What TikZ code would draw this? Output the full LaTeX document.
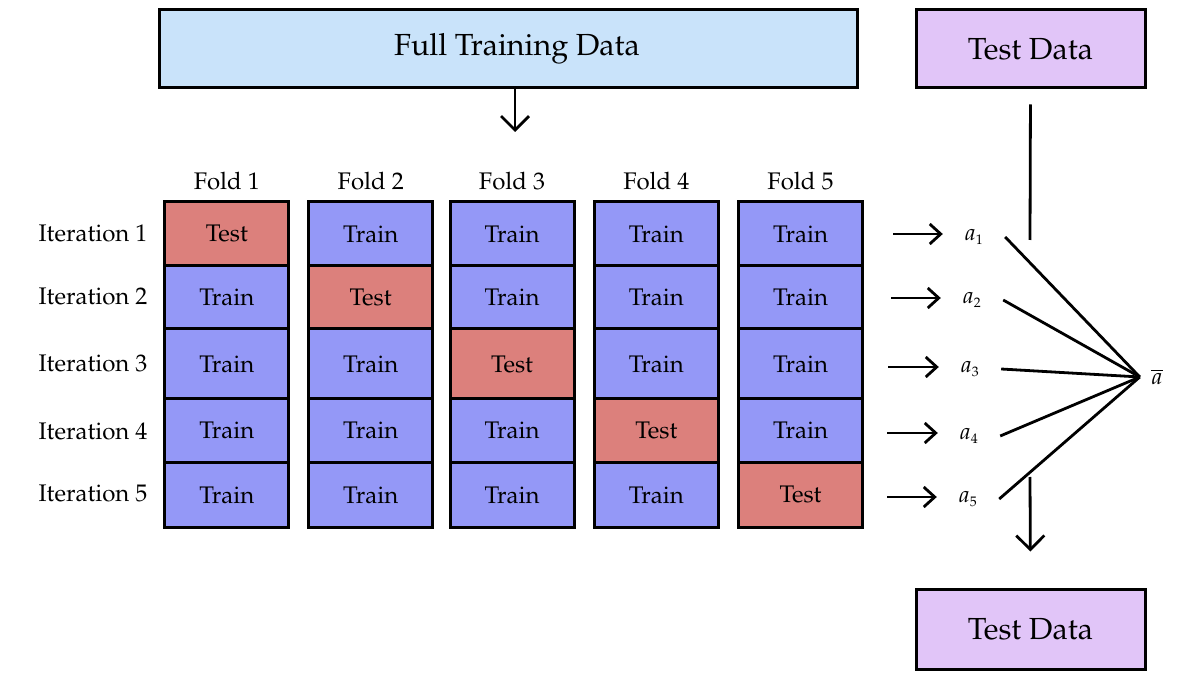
\documentclass[tikz,border=0pt]{standalone}
\usepackage[T1]{fontenc}
\usepackage{mathpazo}
\usetikzlibrary{arrows.meta}
\definecolor{ftdblue}{HTML}{C9E3FA}
\definecolor{tdpurple}{HTML}{E1C5F8}
\definecolor{trainblue}{HTML}{9498F7}
\definecolor{testred}{HTML}{DC807C}
\begin{document}
\begin{tikzpicture}[x=1pt,y=-1pt,
  bigbox/.style={draw=black, line width=3pt, inner sep=0pt, font=\fontsize{30.5}{34}\selectfont},
  cell/.style={draw=black, line width=3pt, inner sep=0pt, minimum width=124pt, font=\fontsize{24}{27}\selectfont},
  traincell/.style={fill=trainblue},
  testcell/.style={fill=testred},
  lbl/.style={inner sep=0pt, font=\fontsize{24}{27}\selectfont},
  aval/.style={inner sep=0pt, minimum width=62pt, font=\fontsize{23}{25}\selectfont},
  conn/.style={line width=2.8pt},
  bigarr/.style={line width=2.8pt, -{Straight Barb[length=14pt,width=28pt,line width=2.8pt]}},
  smallarr/.style={line width=2.8pt, -{Straight Barb[length=11pt,width=20pt,line width=2.8pt]}}
]
\useasboundingbox (0,0) rectangle (1194,700);
% top boxes
\node[bigbox, fill=ftdblue, minimum width=698pt, minimum height=78pt] (ftd) at (508,49) {\hspace*{18pt}Full Training Data};
\node[bigbox, fill=tdpurple, minimum width=229pt, minimum height=78pt] (td1) at (1030.5,49) {Test Data};
\node[bigbox, fill=tdpurple, minimum width=229pt, minimum height=80pt] (td2) at (1030.5,629) {Test Data};
% folds
\foreach \col/\cx in {1/226.8,2/370.7,3/512,4/656.3,5/800.5} {
  \node[lbl] (fold\col) at (\cx,181) {Fold \col};
  \foreach \row/\cy/\h in {1/233.75/63.5,2/297.25/63.5,3/364/70,4/430.5/63,5/494.75/65.5} {
    \ifnum\row=\col \def\kind{testcell}\def\lab{Test}\else \def\kind{traincell}\def\lab{Train}\fi
    \node[cell,\kind,minimum height=\h pt] (c\row-\col) at (\cx,\cy) {\lab};
  }
}
% iteration labels
\foreach \row/\cy in {1/233,2/296,3/363,4/431,5/493} {
  \node[lbl] (it\row) at (93,\cy) {Iteration \row};
}
% arrow from full training data
\coordinate (ftdend) at (515,132);
\draw[bigarr] (ftd.south -| ftdend) -- (ftdend);
% a values
\node[aval] (a1) at (974,237) {$a_{\scriptscriptstyle 1}$};
\node[aval] (a2) at (972,300) {$a_{\scriptscriptstyle 2}$};
\node[aval] (a3) at (970,369) {$a_{\scriptscriptstyle 3}$};
\node[aval] (a4) at (969,436) {$a_{\scriptscriptstyle 4}$};
\node[aval] (a5) at (968,499) {$a_{\scriptscriptstyle 5}$};
\node[inner sep=0pt, minimum width=34pt, font=\fontsize{23}{25}\selectfont] (abar) at (1157,377) {$\overline{a}$};
\coordinate (s1) at (893,234);
\coordinate (s2) at (891,298);
\coordinate (s3) at (888,367);
\coordinate (s4) at (887,433);
\coordinate (s5) at (887,497);
\foreach \i in {1,...,5} {
  \draw[smallarr] (s\i) -- (s\i -| a\i.west);
  \draw[conn] (a\i.east) -- (abar.west);
}
% vertical line from top test data
\coordinate (vend) at (1030,240);
\draw[conn, shorten <=15pt] (td1.south) -- (vend);
% down arrow to bottom test data
\coordinate (dstart) at (1030,477);
\draw[bigarr, shorten >=36pt] (dstart) -- (td2.north);
\end{tikzpicture}
\end{document}
